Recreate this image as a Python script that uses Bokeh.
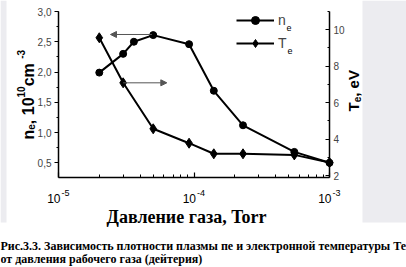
import math
from bokeh.plotting import figure
from bokeh.models import (Range1d, LinearAxis, LogAxis, Label, Arrow, NormalHead, BoxAnnotation,
                          Legend, LegendItem, SingleIntervalTicker, CustomJSTickFormatter,
                          FixedTicker)
from bokeh.embed import file_html
from bokeh.resources import INLINE

# ---------------- data ----------------
pressure_ne = [2.0e-5, 3.0e-5, 3.6e-5, 5.0e-5, 9.2e-5, 1.4e-4, 2.3e-4, 5.5e-4, 1.0e-3]
ne_values = [1.99, 2.30, 2.50, 2.61, 2.46, 1.69, 1.12, 0.68, 0.50]
pressure_te = [2.0e-5, 3.0e-5, 5.0e-5, 9.2e-5, 1.4e-4, 2.3e-4, 5.5e-4, 1.0e-3]
te_values = [9.56, 7.09, 4.57, 3.78, 3.20, 3.20, 3.14, 2.72]
x_exponents = [-5, -4, -3]
ne_axis = (0.257, 3.0)
te_axis = (1.9, 11.0)
x_label = "Давление газа, Torr"
caption_1 = "Рис.3.3. Зависимость плотности плазмы пе и электронной температуры Те"
caption_2 = "от давления рабочего  газа (дейтерия)"
# arrows pointing to the axis each curve belongs to
arrow_ne = dict(x0=4.9e-5, x1=2.42e-5, y=2.62)
arrow_te = dict(x0=3.0e-5, x1=6.3e-5, y=7.09)

# ---------------- layout ----------------
W, H = 406, 267
AL, AR, AT, AB = 58, 329, 11, 177   # axes box in canvas pixels
SANS = "Liberation Sans"
SERIF = "Liberation Serif"

# The frame covers the whole canvas; axes sit at fixed locations inside it.
lx0, lx1 = x_exponents[0], x_exponents[-1]
dec_px = (AR - AL) / (lx1 - lx0)
x_start = 10 ** (lx0 - AL / dec_px)
x_end = 10 ** (lx1 + (W - AR) / dec_px)


def y_extent(lo, hi):
    k = (AB - AT) / (hi - lo)
    return lo - (H - AB) / k, hi + AT / k


p = figure(width=W, height=H, x_axis_type="log", x_axis_location=None, y_axis_location=None,
           x_range=Range1d(x_start, x_end), y_range=Range1d(*y_extent(*ne_axis)),
           output_backend="svg", toolbar_location=None, min_border=0)
p.grid.visible = False
p.outline_line_color = None
p.background_fill_color = "white"
p.border_fill_color = "white"
p.extra_y_ranges["te"] = Range1d(*y_extent(*te_axis))

# gray page margins (screen units)
for l, r in [(0, 6), (362, 406)]:
    p.add_layout(BoxAnnotation(left=l, right=r, top=H, bottom=H - 222,
                               left_units="screen", right_units="screen",
                               top_units="screen", bottom_units="screen",
                               fill_color="#ececf0", fill_alpha=1.0,
                               line_color=None, level="underlay"))

# left axis
ya = LinearAxis(fixed_location=10.0 ** lx0, bounds=ne_axis,
                ticker=SingleIntervalTicker(interval=0.5, num_minor_ticks=2),
                formatter=CustomJSTickFormatter(code="return tick.toFixed(1).replace('.', ',')"))
ya.major_tick_out = 4
ya.major_tick_in = 0
ya.minor_tick_out = 2
ya.minor_tick_in = 0
ya.axis_line_width = 1.5
ya.major_tick_line_width = 1.2
ya.major_label_text_font = SANS
ya.major_label_text_font_size = "10px"
ya.major_label_standoff = 3
p.add_layout(ya, "left")

# right axis
ra = LinearAxis(y_range_name="te", fixed_location=10.0 ** lx1, bounds=te_axis,
                ticker=SingleIntervalTicker(interval=2, num_minor_ticks=2))
ra.major_tick_in = 4
ra.major_tick_out = 0
ra.minor_tick_in = 2
ra.minor_tick_out = 0
ra.axis_line_width = 1.5
ra.major_tick_line_width = 1.2
ra.major_label_text_font = SANS
ra.major_label_text_font_size = "10px"
ra.major_label_standoff = 4
p.add_layout(ra, "right")

# bottom axis
xa = LogAxis(fixed_location=ne_axis[0], bounds=(10.0 ** lx0, 10.0 ** lx1),
             ticker=FixedTicker(ticks=[10.0 ** e for e in x_exponents],
                                minor_ticks=[m * 10.0 ** e for e in x_exponents[:-1] for m in range(2, 10)]),
             formatter=CustomJSTickFormatter(code="return ''"))
xa.major_tick_in = 5
xa.major_tick_out = 0
xa.minor_tick_in = 3
xa.minor_tick_out = 0
xa.axis_line_width = 1.5
xa.major_tick_line_width = 1.2
p.add_layout(xa, "below")

# data
ne_line = p.line(pressure_ne, ne_values, line_color="black", line_width=2)
ne_pts = p.scatter(pressure_ne, ne_values, marker="circle", size=7, color="black")
te_line = p.line(pressure_te, te_values, line_color="black", line_width=2, y_range_name="te")
te_pts = p.scatter(pressure_te, te_values, marker="diamond", size=10, color="black", y_range_name="te")

# arrows
p.add_layout(Arrow(x_start=arrow_ne["x0"], y_start=arrow_ne["y"], x_end=arrow_ne["x1"], y_end=arrow_ne["y"],
                   line_color="#555555", line_width=1,
                   end=NormalHead(size=6, fill_color="#555555", line_color="#555555")))
p.add_layout(Arrow(x_start=arrow_te["x0"], y_start=arrow_te["y"], x_end=arrow_te["x1"], y_end=arrow_te["y"],
                   y_range_name="te", line_color="#555555", line_width=1,
                   end=NormalHead(size=6, fill_color="#555555", line_color="#555555")))

# legend
legend = Legend(items=[LegendItem(label="n", renderers=[ne_line, ne_pts]),
                       LegendItem(label="T", renderers=[te_line, te_pts])],
                location=(236, H - 53), padding=0, margin=0, spacing=3,
                glyph_width=38, glyph_height=20, label_height=20, label_standoff=4,
                label_text_font=SANS, label_text_font_size="14px",
                border_line_alpha=0, background_fill_alpha=0)
p.add_layout(legend)


def txt(x, y, s, size, font=SANS, style="normal", align="left", angle=0.0):
    """x, y: canvas pixels from the top-left corner (converted to screen units)."""
    p.add_layout(Label(x=x, y=H - y, x_units="screen", y_units="screen", text=s,
                       text_font=font, text_font_size=f"{size}px", text_font_style=style,
                       text_align=align, text_baseline="alphabetic", angle=angle,
                       text_color="black"))


def x_px(v):
    return AL + dec_px * (math.log10(v) - lx0)


# legend subscripts
txt(286, 27, "e", 9)
txt(287, 50, "e", 9)

# x tick labels 10^e
for e in x_exponents:
    sx = x_px(10.0 ** e)
    txt(sx + 2, 198, "10", 12, align="right")
    txt(sx + 3, 192, str(e), 9)

# x axis title
txt(186, 216, x_label, 18, font=SERIF, style="bold", align="center")

# rotated titles with sub/superscripts
BOLD_W = {"n": .611, "e": .556, ",": .278, " ": .278, "1": .556, "0": .556,
          "c": .556, "m": .889, "-": .333, "3": .556, "T": .611, "V": .667}


def width(s, size):
    return sum(BOLD_W[c] for c in s) * size


def rotated(parts, x_base, y_start):
    y = y_start
    for s, size, shift in parts:
        txt(x_base + shift, y, s, size, style="bold", angle=math.pi / 2)
        y -= width(s, size)


rotated([("n", 16, 0), ("e", 10, 3), (", 10", 16, 0), ("10", 10, -7),
         (" cm", 16, 0), ("-3", 10, -7)], 27.5, 139)
rotated([("T", 15, 0), ("e", 10, 3), (", eV", 15, 0)], 353, 111)

# caption
txt(0, 245, caption_1, 12, font=SERIF, style="bold")
txt(0, 258, caption_2, 12, font=SERIF, style="bold")

open("out.html", "w").write(file_html(p, INLINE))
